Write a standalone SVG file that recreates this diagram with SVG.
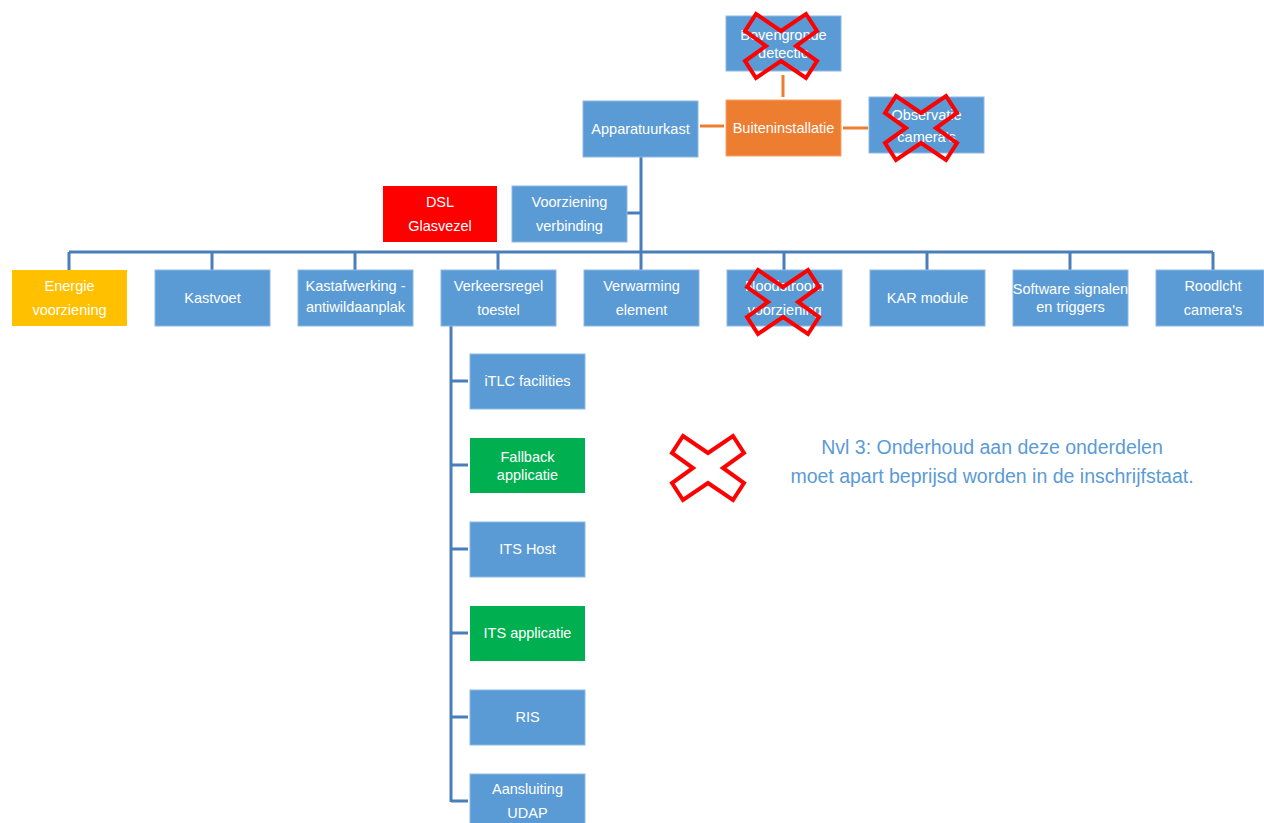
<svg xmlns="http://www.w3.org/2000/svg" width="1264" height="823" viewBox="0 0 1264 823">
<style>
.b{fill:#5B9BD5;stroke:#8DB7E3;stroke-width:1}
.o{fill:#ED7D31;stroke:#F2A46F;stroke-width:1}
.g{fill:#00B050}
.r{fill:#FF0000}
.y{fill:#FFC000}
text{font-family:"Liberation Sans",Arial,sans-serif;font-size:14.5px;fill:#FFFFFF;text-anchor:middle}
.c path{fill:none;stroke:#4A7EBB;stroke-width:3}
.co path{fill:none;stroke:#ED7D31;stroke-width:3}
.x{fill:none;stroke:#FF0000;stroke-width:4;stroke-linejoin:miter}
.note{fill:#5B9BD5;font-size:19.5px}
</style>
<defs>
<path id="X" d="M-25,-32 L0,-15 L25,-32 L36,-15 L15,0 L36,15 L25,32 L0,15 L-25,32 L-36,15 L-15,0 L-36,-15 Z"/>
</defs>
<rect width="1264" height="823" fill="#FFFFFF"/>
<g class="c">
<path d="M641,157 V252 M69,252 H1213 M69,252 V270 M212,252 V270 M355,252 V270 M498,252 V270 M641,252 V270 M784,252 V270 M927,252 V270 M1070,252 V270 M1213,252 V270 M627,213 H641"/>
<path d="M451,326 V802 M451,381 H468 M451,465 H468 M451,549 H468 M451,633 H468 M451,717 H468 M451,801 H468"/>
</g>
<g class="co">
<path d="M783,75 V97 M700,126 H724 M843,128 H868"/>
</g>
<g id="bovengronde"><rect class="b" x="726" y="16" width="115" height="55"/><text x="783.5" y="40">Bovengronde</text><text x="783.5" y="58">detectie</text></g>
<g id="buiteninstallatie"><rect class="o" x="726" y="100" width="115" height="56"/><text x="783.5" y="133">Buiteninstallatie</text></g>
<g id="observatie"><rect class="b" x="869" y="97" width="115" height="56"/><text x="926.5" y="120">Observatie</text><text x="926.5" y="142">camera's</text></g>
<g id="apparatuurkast"><rect class="b" x="583" y="101" width="115" height="56"/><text x="640.5" y="134">Apparatuurkast</text></g>
<g id="dsl"><rect class="r" x="383" y="186" width="114" height="56"/><text x="440" y="207">DSL</text><text x="440" y="231">Glasvezel</text></g>
<g id="voorziening"><rect class="b" x="512" y="186" width="115" height="56"/><text x="569.5" y="207">Voorziening</text><text x="569.5" y="231">verbinding</text></g>
<g id="energie"><rect class="y" x="12" y="270" width="115" height="56"/><text x="69.5" y="291">Energie</text><text x="69.5" y="315">voorziening</text></g>
<g id="kastvoet"><rect class="b" x="155" y="270" width="115" height="56"/><text x="212.5" y="303">Kastvoet</text></g>
<g id="kastafwerking"><rect class="b" x="298" y="270" width="115" height="56"/><text x="355.5" y="291">Kastafwerking -</text><text x="355.5" y="312">antiwildaanplak</text></g>
<g id="verkeersregel"><rect class="b" x="441" y="270" width="115" height="56"/><text x="498.5" y="291">Verkeersregel</text><text x="498.5" y="315">toestel</text></g>
<g id="verwarming"><rect class="b" x="584" y="270" width="115" height="56"/><text x="641.5" y="291">Verwarming</text><text x="641.5" y="315">element</text></g>
<g id="noodstroom"><rect class="b" x="727" y="270" width="115" height="56"/><text x="784.5" y="291">Noodstroom</text><text x="784.5" y="315">voorziening</text></g>
<g id="kar"><rect class="b" x="870" y="270" width="115" height="56"/><text x="927.5" y="303">KAR module</text></g>
<g id="software"><rect class="b" x="1013" y="270" width="115" height="56"/><text x="1070.5" y="294">Software signalen</text><text x="1070.5" y="312">en triggers</text></g>
<g id="roodlicht"><rect class="b" x="1156" y="270" width="108" height="56"/><text x="1213" y="291">Roodlcht</text><text x="1213" y="315">camera's</text></g>
<g id="itlc"><rect class="b" x="470" y="354" width="115" height="55"/><text x="527.5" y="386">iTLC facilities</text></g>
<g id="fallback"><rect class="g" x="470" y="438" width="115" height="55"/><text x="527.5" y="462">Fallback</text><text x="527.5" y="480">applicatie</text></g>
<g id="itshost"><rect class="b" x="470" y="522" width="115" height="55"/><text x="527.5" y="554">ITS Host</text></g>
<g id="itsapp"><rect class="g" x="470" y="606" width="115" height="55"/><text x="527.5" y="638">ITS applicatie</text></g>
<g id="ris"><rect class="b" x="470" y="690" width="115" height="55"/><text x="527.5" y="722">RIS</text></g>
<g id="udap"><rect class="b" x="470" y="774" width="115" height="55"/><text x="527.5" y="794">Aansluiting</text><text x="527.5" y="818">UDAP</text></g>
<g id="crosses">
<use href="#X" class="x" transform="translate(781,46)"/>
<use href="#X" class="x" transform="translate(921,128)"/>
<use href="#X" class="x" transform="translate(783,302)"/>
<use href="#X" class="x" transform="translate(708,468)"/>
</g>
<g id="note">
<text class="note" x="992" y="454">Nvl 3: Onderhoud aan deze onderdelen</text>
<text class="note" x="992" y="483">moet apart beprijsd worden in de inschrijfstaat.</text>
</g>
</svg>
